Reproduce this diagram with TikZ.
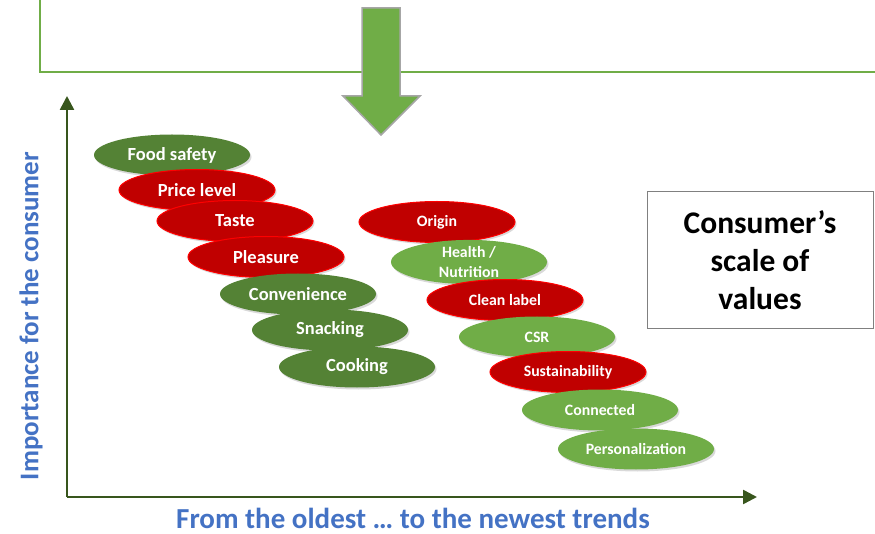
\documentclass[tikz,border=0pt]{standalone}
\usepackage{fontspec}
\setmainfont{Carlito}
\usepackage{tikz}
\usetikzlibrary{shapes.geometric, arrows.meta, shadows}

\definecolor{leafdark}{HTML}{548235}
\definecolor{leaflight}{HTML}{70AD47}
\definecolor{axisgreen}{HTML}{38561D}
\definecolor{wine}{HTML}{C00000}
\definecolor{axisblue}{HTML}{4472C4}

\tikzset{
  value/.style={ellipse, minimum width=156pt, minimum height=41pt, inner sep=0pt,
    text=white, font=\bfseries\fontsize{18.5}{20}\selectfont,
    drop shadow={shadow xshift=1.5pt, shadow yshift=-2pt, opacity=0.3}},
  olddark/.style={value, fill=leafdark},
  hotred/.style={value, fill=wine, draw=red, line width=1pt},
  newlight/.style={value, fill=leaflight},
  small/.style={font=\bfseries\fontsize{15.8}{20}\selectfont, align=center},
  axis/.style={draw=axisgreen, line width=2.5pt, -{Triangle[length=14pt, width=14pt]}}
}

\begin{document}
\begin{tikzpicture}[x=1pt, y=-1pt]
\useasboundingbox (0,0) rectangle (875,534);

% cadre du haut
\begin{scope}
\clip (0,0) rectangle (875,534);
\draw[leaflight, line width=2pt] (40,-10) rectangle (890,72);
\end{scope}

% grosse fleche
\draw[fill=leaflight, draw=black!35, line width=1.5pt]
  (362,8) -- (400,8) -- (400,96) -- (420,96) -- (381,135) -- (343,96) -- (362,96) -- cycle;

% axes
\coordinate (O) at (67,497);
\coordinate (ytop) at (67,96);
\coordinate (xend) at (757,497);
\draw[axis] (O) -- (ytop);
\draw[axis] (O) -- (xend);

\node[rotate=90, text=axisblue, font=\bfseries\fontsize{27}{29}\selectfont] (ylab) at (31,316)
  {Importance for the consumer};
\node[text=axisblue, font=\bfseries\fontsize{29}{31}\selectfont] (xlab) at (413,518)
  {From the oldest … to the newest trends};

% anciennes tendances
\node[olddark] (food) at (172,155) {Food safety};
\node[hotred]  (price) at (197,190) {Price level};
\node[hotred]  (taste) at (235,221) {Taste};
\node[hotred]  (pleas) at (266,257) {Pleasure};
\node[olddark] (conv) at (298,294) {Convenience};
\node[olddark] (snack) at (330,330) {Snacking};
\node[olddark] (cook) at (357,367) {Cooking};

% nouvelles tendances
\node[hotred, small]   (orig) at (437,222) {Origin};
\node[newlight, small] (health) at (469,262) {Health /\\Nutrition};
\node[hotred, small]   (clean) at (505,300) {Clean label};
\node[newlight, small] (csr) at (537,337) {CSR};
\node[hotred, small]   (sust) at (568,372) {Sustainability};
\node[newlight, small] (conn) at (600,410) {Connected};
\node[newlight, small] (perso) at (636,449) {Personalization};

% encadre
\node[draw=black!50, line width=1pt, minimum width=226pt, minimum height=137pt,
  align=center, font=\bfseries\fontsize{31.5}{38}\selectfont] (scale) at (760,260)
  {Consumer’s\\scale of\\values};

\end{tikzpicture}
\end{document}
